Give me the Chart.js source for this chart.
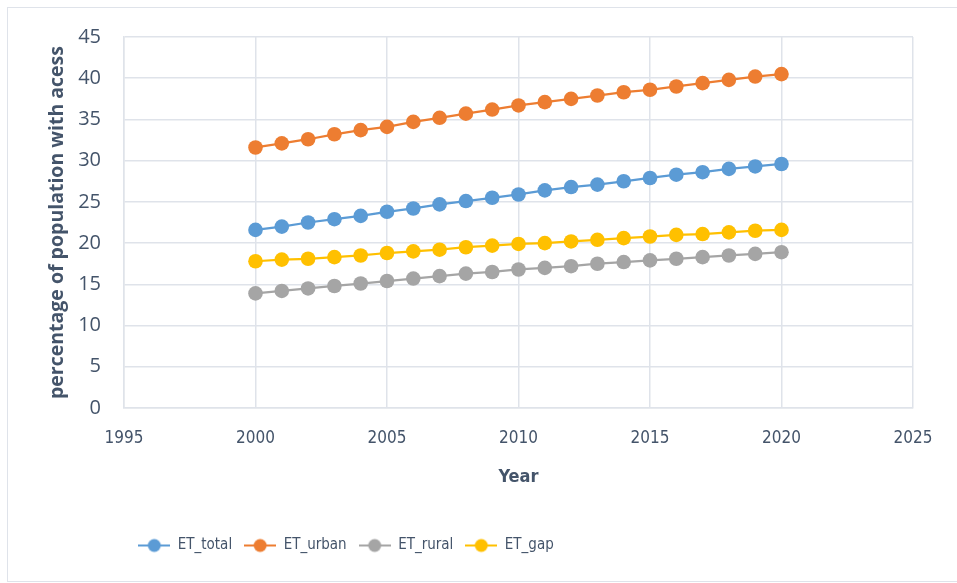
<!DOCTYPE html>
<html>
<head>
<meta charset="utf-8">
<script src="https://cdn.jsdelivr.net/npm/chart.js@4"></script>
<style>
  html, body { margin: 0; padding: 0; background: #fff; }
  #wrap { position: relative; width: 957px; height: 583px; overflow: hidden; }
  #frame { position: absolute; left: 7px; top: 7px; width: 960px; height: 575px; border: 1px solid #dfe3ea; box-sizing: border-box; }
  canvas { position: absolute; left: 0; top: 0; }
</style>
</head>
<body>
<div id="wrap">
  <div id="frame"></div>
  <canvas id="chart" width="957" height="583"></canvas>
</div>
<script>
// years on the x axis
const years = [2000, 2001, 2002, 2003, 2004, 2005, 2006, 2007, 2008, 2009, 2010,
               2011, 2012, 2013, 2014, 2015, 2016, 2017, 2018, 2019, 2020];

// series values
const etTotal = [21.6, 22.0, 22.5, 22.9, 23.3, 23.8, 24.2, 24.7, 25.1, 25.5, 25.9,
                 26.4, 26.8, 27.1, 27.5, 27.9, 28.3, 28.6, 29.0, 29.3, 29.6];
const etUrban = [31.6, 32.1, 32.6, 33.2, 33.7, 34.1, 34.7, 35.2, 35.7, 36.2, 36.7,
                 37.1, 37.5, 37.9, 38.3, 38.6, 39.0, 39.4, 39.8, 40.2, 40.5];
const etRural = [13.9, 14.2, 14.5, 14.8, 15.1, 15.4, 15.7, 16.0, 16.3, 16.5, 16.8,
                 17.0, 17.2, 17.5, 17.7, 17.9, 18.1, 18.3, 18.5, 18.7, 18.9];
const etGap   = [17.8, 18.0, 18.1, 18.3, 18.5, 18.8, 19.0, 19.2, 19.5, 19.7, 19.9,
                 20.0, 20.2, 20.4, 20.6, 20.8, 21.0, 21.1, 21.3, 21.5, 21.6];

const seriesNames = ['ET_total', 'ET_urban', 'ET_rural', 'ET_gap'];
const seriesColors = ['#5B9BD5', '#ED7D31', '#A5A5A5', '#FFC000'];
const seriesData = [etTotal, etUrban, etRural, etGap];

const textColor = '#44546A';
const gridColor = '#dfe3ea';
const narrow = '"Liberation Sans Narrow", "DejaVu Sans Condensed", "Liberation Sans", sans-serif';

// little line + dot image for the legend, like the Excel one
function legendMark(color) {
  const c = document.createElement('canvas');
  c.width = 32; c.height = 16;
  const g = c.getContext('2d');
  g.strokeStyle = color;
  g.lineWidth = 2;
  g.beginPath(); g.moveTo(0, 8); g.lineTo(32, 8); g.stroke();
  g.fillStyle = color;
  g.beginPath(); g.arc(16, 8, 6.5, 0, Math.PI * 2); g.fill();
  return c;
}

const datasets = seriesNames.map((name, i) => ({
  label: name,
  data: years.map((y, j) => ({ x: y, y: seriesData[i][j] })),
  borderColor: seriesColors[i],
  backgroundColor: seriesColors[i],
  borderWidth: 2.25,
  pointRadius: 7.3,
  pointHoverRadius: 7.3,
  pointBorderWidth: 0,
  pointStyle: 'circle',
  legendImg: legendMark(seriesColors[i])
}));

// shift the legend to where Excel put it
const legendShift = {
  id: 'legendShift',
  afterLayout(chart) {
    const lg = chart.legend;
    lg.left = 6;
    lg.right = 686;
  }
};

new Chart(document.getElementById('chart'), {
  type: 'line',
  data: { datasets },
  plugins: [legendShift],
  options: {
    responsive: false,
    animation: false,
    layout: { padding: { left: 0, top: 37, right: 44, bottom: 20 } },
    plugins: {
      tooltip: { enabled: false },
      legend: {
        position: 'bottom',
        labels: {
          color: textColor,
          font: { family: narrow, size: 15 },
          usePointStyle: true,
          pointStyleWidth: 32,
          padding: 12,
          generateLabels(chart) {
            return chart.data.datasets.map((d, i) => ({
              text: d.label,
              fillStyle: d.backgroundColor,
              strokeStyle: d.borderColor,
              lineWidth: 0,
              pointStyle: d.legendImg,
              fontColor: textColor,
              hidden: false,
              datasetIndex: i
            }));
          }
        }
      }
    },
    scales: {
      x: {
        type: 'linear',
        min: 1995,
        max: 2025,
        afterFit(scale) { scale.height = 118; },
        ticks: {
          stepSize: 5,
          color: textColor,
          font: { family: narrow, size: 17 },
          padding: 20,
          callback: v => String(v)
        },
        grid: { color: gridColor, lineWidth: 1.5, drawTicks: false },
        border: { color: gridColor, width: 1.5 },
        title: {
          display: true,
          text: 'Year',
          color: textColor,
          font: { family: narrow, size: 18, weight: 'bold' },
          padding: { top: 0, bottom: 38 }
        }
      },
      y: {
        min: 0,
        max: 45,
        afterFit(scale) { scale.width = 124; },
        ticks: {
          stepSize: 5,
          color: textColor,
          font: { family: '"Open Sans", sans-serif', size: 20 },
          padding: 23
        },
        grid: { color: gridColor, lineWidth: 1.5, drawTicks: false },
        border: { color: gridColor, width: 1.5 },
        title: {
          display: true,
          text: 'percentage of population with acess',
          color: textColor,
          font: { family: '"Open Sans", sans-serif', size: 19.5, weight: 'bold' },
          padding: { top: 46, bottom: 0 }
        }
      }
    }
  }
});
</script>
</body>
</html>
